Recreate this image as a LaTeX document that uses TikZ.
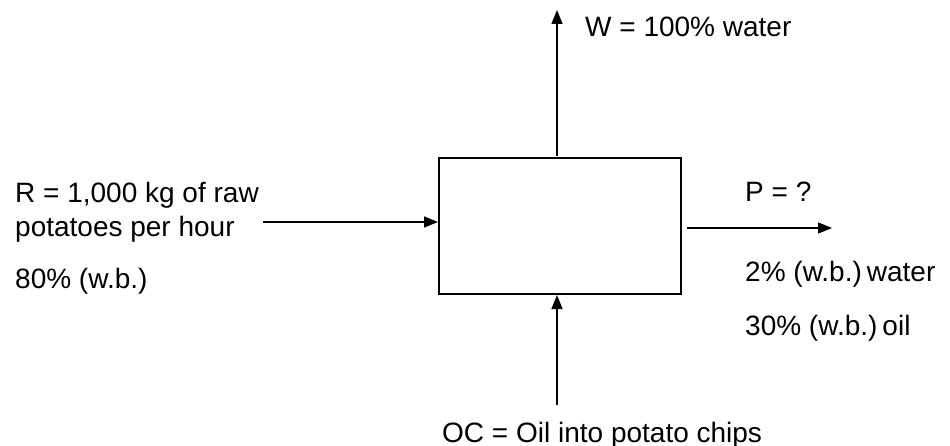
\documentclass[tikz,border=0pt]{standalone}
\usepackage{fontspec}
\setmainfont{Liberation Sans}
\usetikzlibrary{arrows.meta}
\begin{document}
\begin{tikzpicture}[x=1pt,y=-1pt,
  lbl/.style={anchor=base west,inner sep=0pt,font=\fontsize{28}{33}\selectfont},
  flow/.style={line width=1.5pt,-{Triangle[length=14pt,width=11pt]}},
  unit/.style={draw,line width=2pt,minimum width=242pt,minimum height=136pt,inner sep=0pt}]
\useasboundingbox (0,0) rectangle (950,446);
\node[unit] (box) at (560,226) {};
\coordinate (wend) at (557,10);
\coordinate (rstart) at (263,222);
\coordinate (pstart) at (687,228);
\coordinate (pend) at (832,228);
\coordinate (ocstart) at (557,405);
\draw[flow] (box.north -| wend) ++(0,-1) -- (wend);
\draw[flow] (rstart) -- (rstart -| box.west);
\draw[flow] (pstart) -- (pend);
\draw[flow] (ocstart) -- (ocstart |- box.south);
\node[lbl] (w) at (585,37) {W = 100\% water};
\node[lbl] (r1) at (15,203) {R = 1,000 kg of raw};
\node[lbl] (r2) at (15,237) {potatoes per hour};
\node[lbl] (r3) at (15,288) {80\% (w.b.)};
\node[lbl] (p1) at (745,202) {P = ?};
\node[lbl] (p2) at (745,282) {2\% (w.b.)\hspace{0.18em}water};
\node[lbl] (p3) at (745,335) {30\% (w.b.)\hspace{0.18em}oil};
\node[lbl] (oc) at (442,442) {OC = Oil into potato chips};
\end{tikzpicture}
\end{document}
